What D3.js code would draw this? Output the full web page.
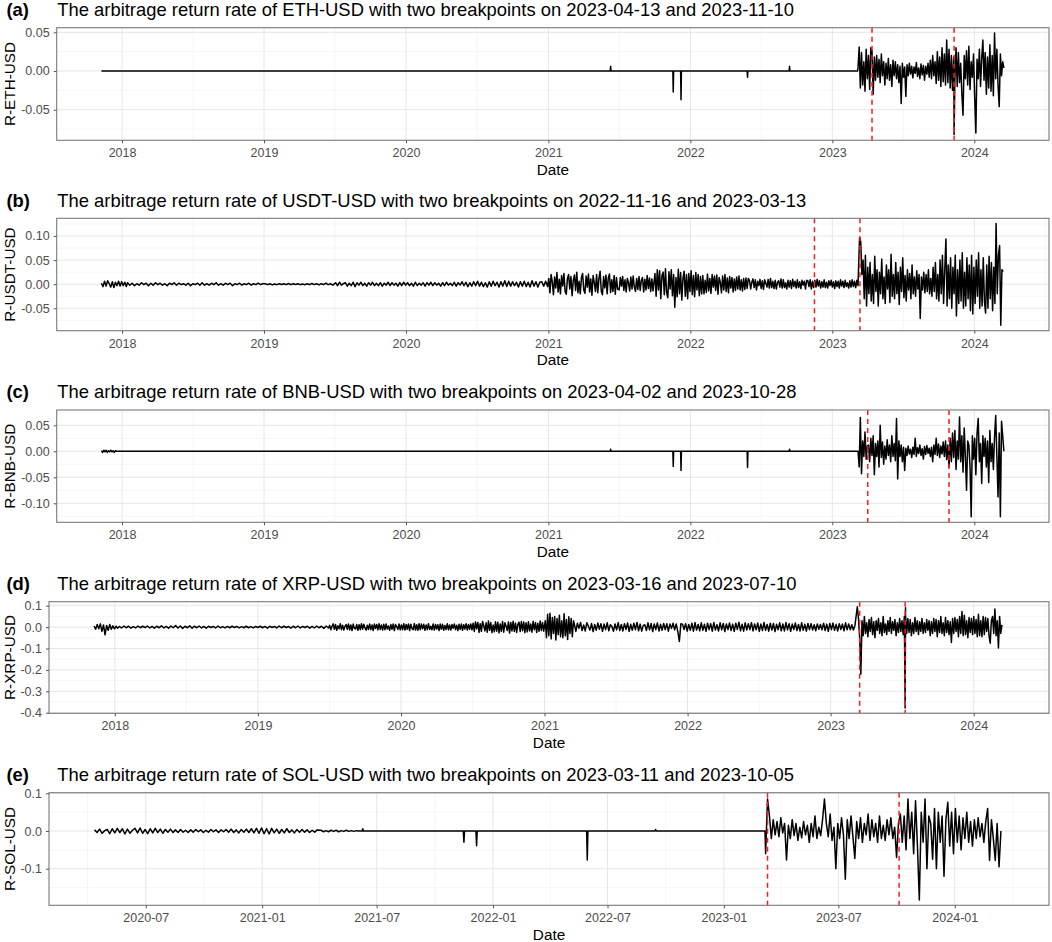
<!DOCTYPE html>
<html><head><meta charset="utf-8">
<script src="https://cdn.jsdelivr.net/npm/d3@7"></script>
<style>body{margin:0;background:#fff}svg text{font-family:"Liberation Sans",Arial,Helvetica,sans-serif}</style>
</head><body><svg id="chart" width="1052" height="942"></svg>
<script>
// ---------------- DATA ----------------
const panelTags = ["(a)","(b)","(c)","(d)","(e)"];
const panelTitles = [
 "The arbitrage return rate of ETH-USD with two breakpoints on 2023-04-13 and 2023-11-10",
 "The arbitrage return rate of USDT-USD with two breakpoints on 2022-11-16 and 2023-03-13",
 "The arbitrage return rate of BNB-USD with two breakpoints on 2023-04-02 and 2023-10-28",
 "The arbitrage return rate of XRP-USD with two breakpoints on 2023-03-16 and 2023-07-10",
 "The arbitrage return rate of SOL-USD with two breakpoints on 2023-03-11 and 2023-10-05"];
const yLabels = ["R-ETH-USD","R-USDT-USD","R-BNB-USD","R-XRP-USD","R-SOL-USD"];
const xLabel = "Date";
const breakpoints = [["2023-04-13","2023-11-10"],["2022-11-16","2023-03-13"],["2023-04-02","2023-10-28"],["2023-03-16","2023-07-10"],["2023-03-11","2023-10-05"]];
const yTickValues = [[-0.05,0,0.05],[-0.05,0,0.05,0.10],[-0.10,-0.05,0,0.05],[-0.4,-0.3,-0.2,-0.1,0,0.1],[-0.1,0,0.1]];
const yTickDecimals = [2,2,2,1,1];
const yearTicks = ["2018-01-01","2019-01-01","2020-01-01","2021-01-01","2022-01-01","2023-01-01","2024-01-01"];
const solTicks = ["2020-07-01","2021-01-01","2021-07-01","2022-01-01","2022-07-01","2023-01-01","2023-07-01","2024-01-01"];

// ETH-USD
const ethPtDates = ["2017-11-09","2021-06-09","2021-06-10","2021-06-11","2021-11-17","2021-11-18","2021-11-19","2021-12-07","2021-12-08","2021-12-09","2022-05-27","2022-05-28","2022-05-29","2022-09-12","2022-09-13","2022-09-14","2023-03-07","2023-11-10"];
const ethPtVals  = [0,0,0.006,0,0,-0.027,0,0,-0.037,0,0,-0.008,0,0,0.006,0,0,-0.082];
const ethSegStarts = ["2023-03-08"];
const ethSegSteps = [3];
const ethSegVals = [[0.004,0.031,-0.022,0.024,-0.018,0.012,-0.026,0.028,-0.01,0.02,-0.024,0.03,
 0.026,-0.03,0.018,-0.012,0.02,-0.008,0.015,-0.015,0.022,-0.006,0.012,-0.018,0.01,-0.01,0.016,-0.012,0.008,-0.02,0.014,
 -0.006,0.012,-0.01,0.008,-0.015,0.006,-0.042,0.01,-0.008,0.005,-0.033,
 0.008,-0.006,0.01,-0.004,0.006,-0.009,0.005,-0.003,0.011,-0.007,0.004,-0.01,0.009,-0.005,0.007,-0.012,0.006,-0.004,0.01,
 -0.008,0.014,-0.01,0.02,-0.006,0.012,-0.016,0.025,-0.012,0.018,-0.02,0.03,-0.014,0.022,-0.018,0.04,-0.015,0.028,-0.022,0.02,
 -0.025,0.018,-0.012,0.03,-0.02,0.024,-0.015,0.01,-0.03,-0.057,0.02,-0.01,0.026,-0.018,0.032,-0.024,0.012,-0.008,0.022,-0.035,-0.08,0.015,-0.01,0.028,-0.02,0.016,0.04,-0.012,0.024,-0.03,0.018,-0.022,0.034,-0.026,0.02,-0.032,0.049,-0.01,0.028,-0.018,-0.046,0.022,-0.006,0.012,0.004]];

// USDT-USD
const usdtPtDates = [];
const usdtPtVals = [];
const usdtSegStarts = ["2017-11-09","2018-01-15","2019-01-04","2019-07-04","2021-01-02","2021-07-02","2021-10-02","2022-02-02","2022-06-02","2023-03-12"];
const usdtSegSteps = [4,6,6,5,3,3,3,3,3,3];
const usdtSegVals = [
 [.002,-.005,.006,-.004,.007,.001,-.006,.005,-.007,.004,-.003,.006,-.004,.005,-.003,.004,-.005],
 [.003,-.002,.002,-.003,.001,-.002,.003,-.001,.002,-.003,.002,-.002,.003,-.001,.002,-.002,.001,-.003,.002,-.001,.003,-.002,.002,-.001,.001,-.002,.002,-.003,.001,-.001,.002,-.002,.003,-.002,.001,-.002,.002,-.001,.003,-.002,.001,-.002,.002,-.001,.002,-.003,.001,-.001,.002,-.002,.001,-.001,.002,-.002,.001,-.001,.002,-.001,.001],
 [.001,-.001,.001,-.0015,.0005,-.001,.001,-.0005,.001,-.001,.0015,-.001,.001,-.0005,.001,-.001,.0005,-.001,.001,-.001,.0015,-.001,.001,-.0015,.001,-.001,.002,-.001,.001,-.002],
 [.003,-.003,.004,-.002,.001,.003,-.004,.002,-.003,.004,-.005,.003,-.002,.004,-.003,.002,-.004,.003,-.002,.004,-.003,.002,-.003,.003,-.004,.002,-.002,.004,-.003,.003,-.002,.002,-.004,.003,-.003,.004,-.002,.003,-.003,.002,-.004,.004,-.003,.002,-.002,.003,-.004,.003,-.002,.004,-.003,.003,-.002,.002,-.004,.003,-.003,.004,-.002,.002,-.003,.004,-.004,.003,-.002,.005,-.003,.004,-.005,.003,-.004,.005,-.003,.006,-.004,.004,-.005,.003,-.006,.005,-.004,.006,-.003,.004,-.006,.005,-.004,.007,-.005,.006,-.004,.005,-.003,.004,-.006,.005,-.004,.006,-.005,.004,-.006,.007,-.004,.005,-.006,.004,.005,-.004,.006,-.005],
 [.012,-.018,.02,.005,-.022,.015,-.008,.024,-.016,.01,-.02,.018,-.004,.022,-.015,-.021,.012,.02,-.01,.016,
  -.024,.008,.019,-.013,.025,-.018,.006,-.02,.014,.022,-.012,-.019,.017,-.006,.021,-.016,.011,-.023,.018,.004,
  -.015,.02,-.018,.012,.027,-.014,-.022,.016,-.008,.019,-.02,.013,.021,-.017,.009,-.015,.018,-.021,.014,-.01],
 [-.012,.014,-.004,.016,-.013,.009,-.016,.012,.003,-.014,.015,-.01,.017,-.006,-.015,.012,-.011,.016,-.013,.008,
  .014,-.016,.01,-.012,.018,-.009,.013,-.015,.011,-.014],
 [.022,-.025,.03,-.012,.028,-.03,.018,.025,-.022,.032,-.018,-.028,.026,-.01,.03,-.024,.02,-.048,.014,-.026,
  .031,-.02,.024,-.033,.012,.027,-.025,.02,-.03,.022,-.015,.028,-.022,.018,-.026,.024,-.012,.02,-.024,.016,-.02],
 [.018,-.02,.008,-.017,.021,-.014,.012,-.019,.02,-.006,.017,-.013,.019,-.021,.014,.004,-.018,.017,-.012,.02,
  -.015,.013,-.018,.016,-.008,.014,-.016,.011,-.013,.015,-.01,.017,-.012,.009,-.014,.012,-.011,.013,-.009,.012],
 [.008,-.01,.004,.011,-.007,.009,-.012,.006,-.003,.01,-.009,.007,-.011,.009,.002,-.006,.01,-.008,.012,-.007,
  .006,-.009,.008,-.01,.004,.007,-.006,.011,-.008,.009,-.007,.003,-.01,.008,-.006,.007,-.009,.01,-.005,.006,
  -.008,.009,-.007,.005,-.009,.008,-.002,.006,-.01,.008,.007,-.005,.009,-.01,.006,-.007,.008,-.006,.01,-.004,
  .007,-.008,.005,-.006,.009,-.007,.004,-.008,.007,-.003,.008,-.006,.005,-.009,.007,-.005,.006,-.008,.009,-.004,
  .006,-.007,.008,-.005,.003,-.008,.007,-.006,.009,-.005,.006,-.007,.008,-.003],
 [0.097,0.088,0.02,0.05,-0.03,0.06,-0.045,0.035,-0.02,0.045,
  -0.035,0.02,-0.04,0.058,-0.015,0.03,-0.045,0.025,-0.02,0.052,-0.03,0.015,-0.04,0.04,-0.01,0.03,-0.038,0.062,-0.025,0.02,
  -0.03,0.045,-0.02,0.025,-0.042,0.035,-0.015,0.055,-0.028,0.018,-0.035,0.03,-0.012,0.022,-0.03,0.04,-0.02,0.015,-0.025,0.028,
  -0.01,0.02,-0.071,0.015,-0.012,0.025,-0.018,0.02,-0.015,0.03,-0.02,0.012,-0.025,0.035,-0.015,0.045,-0.03,0.02,-0.035,0.05,
  -0.02,0.06,-0.04,0.03,0.094,-0.045,0.04,-0.03,0.055,-0.05,0.035,-0.02,0.06,-0.066,0.03,-0.04,0.05,-0.035,0.065,-0.05,
  0.025,-0.045,0.055,-0.03,0.04,-0.055,0.06,-0.062,0.035,-0.04,0.05,-0.025,0.065,-0.05,0.03,-0.045,0.055,-0.035,-0.06,0.04,
  -0.05,0.058,-0.03,0.045,-0.055,0.035,-0.04,0.126,-0.02,0.06,0.08,-0.085,0.03,0.026]];

// BNB-USD
const bnbPtDates = ["2017-12-20","2021-06-09","2021-06-10","2021-06-11","2021-11-17","2021-11-18","2021-11-19","2021-12-07","2021-12-08","2021-12-09","2022-05-27","2022-05-28","2022-05-29","2022-09-12","2022-09-13","2022-09-14","2023-03-07"];
const bnbPtVals = [0,0,0.004,0,0,-0.029,0,0,-0.037,0,0,-0.031,0,0,0.004,0,0];
const bnbSegStarts = ["2017-11-09","2023-03-08"];
const bnbSegSteps = [3,3];
const bnbSegVals = [
 [.001,-.002,.002,-.001,.002,-.002,.001,-.001,.002,-.001,.001,-.002,.001,0],
 [0.0,-0.03,0.065,-0.043,0.02,-0.01,0.037,-0.015,0.01,
  0.012,-0.02,0.025,-0.008,0.03,-0.045,0.015,-0.01,0.02,-0.03,0.05,-0.012,0.018,-0.025,0.01,-0.015,0.022,-0.008,0.012,-0.02,0.03,-0.01,0.015,-0.018,0.063,-0.053,0.02,-0.01,0.012,-0.02,0.008,-0.037,
  0.006,-0.008,0.01,-0.005,0.004,-0.012,0.008,-0.006,0.025,-0.01,0.007,-0.004,0.012,-0.008,0.005,-0.015,0.009,-0.006,0.011,-0.004,0.006,-0.01,0.008,-0.02,0.012,-0.006,0.025,-0.008,0.014,-0.012,0.01,-0.005,0.018,-0.01,0.02,-0.016,0.012,
  -0.03,0.025,-0.02,0.035,-0.012,0.04,-0.035,0.02,-0.015,0.066,-0.02,0.03,-0.04,0.045,-0.01,-0.075,0.02,0.012,-0.03,-0.126,0.03,-0.015,0.025,-0.045,0.035,0.063,-0.02,0.015,-0.062,0.03,-0.01,0.025,-0.03,0.02,-0.06,0.04,-0.02,0.015,-0.035,0.028,0.069,-0.01,-0.088,0.035,-0.126,0.058,0.03,0.0]];

// XRP-USD
const xrpPtDates = ["2023-07-10","2023-07-11"];
const xrpPtVals = [-0.378,0.09];
const xrpSegStarts = ["2017-11-09","2018-01-12","2019-07-03","2020-07-03","2021-01-03","2021-03-18","2023-03-10"];
const xrpSegSteps = [4,6,3,3,3,4,3];
const xrpSegVals = [
 [.005,-.01,.012,-.008,.015,-.02,.01,-.036,.008,-.015,.012,-.01,.006,-.008,.004,-.005],
 [.003,-.004,.005,-.003,.004,-.005,.002,-.004,.005,-.003,.004,-.002,.005,-.004,.003,-.005,.004,-.003,.006,-.004,.003,-.005,.005,-.003,.007,-.004,.005,-.006,.004,-.003,.006,-.005,.004,-.003,.005,-.004,.003,-.005,.004,-.002,.003,-.004,.005,-.003,.002,-.004,.003,-.003,.004,-.002,.003,-.004,.002,-.003,.004,-.003,.002,-.004,.003,-.002,.004,-.003,.003,-.005,.004,-.002,.003,-.004,.005,-.003,.004,-.002,.003,-.005,.004,-.003,.005,-.004,.003,-.002,.004,-.005,.003,-.004,.005,-.003,.004,-.006,.005,-.004],
 [.008,-.012,.004,.015,-.01,.012,-.015,.006,-.008,.016,-.012,.009,-.014,.003,.012,-.01,.015,-.013,.01,-.016,
  .014,-.005,-.009,.012,-.015,.011,-.012,.016,-.01,.013,-.004,-.014,.009,-.011,.015,-.012,.01,-.016,.014,-.007,
  .012,-.013,.016,-.011,.01,-.014,.013,-.012,.015,-.009,.005,-.015,.012,-.01,.014,-.016,.012,.002,-.011,.015,
  -.013,.01,-.012,.016,-.014,.012,-.01,.015,-.016,.013,-.006,-.012,.017,-.014,.011,-.015,.016,-.012,.014,-.008,
  .013,-.015,.01,-.012,.016,-.011,.004,-.013,.015,-.014,.012,-.009,.011,-.016,.014,-.01,.013,-.015,.008,-.011,
  .016,-.013,.01,-.014,.012,-.006,.015,-.012,.009,-.016,.013,-.011,.014,-.015,.011,-.009,.016,-.014,.012,-.01,
  .015,-.013],
 [.018,-.02,.024,-.008,.022,-.025,.016,-.02,.026,.006,-.018,.02,-.024,.028,-.015,.021,-.026,.01,-.022,.025,
  -.019,.023,-.027,.015,-.02,.026,-.024,.02,.004,-.016,.024,-.028,.022,-.018,.027,-.02,.019,-.025,.012,.023,
  -.021,.026,-.017,.024,-.026,.02,-.022,.025,-.018,.015,-.024,.027,-.012,.021,-.025,.018,-.02,.028,-.016,.022,-.019],
 [.03,-.05,.06,-.04,.065,-.055,.045,-.03,.05,-.06,.04,-.035,.055,-.045,.03,-.05,.062,-.04,.035,-.058,.048,-.03,.04,-.045,.03],
 [.015,-.02,.018,-.006,.022,-.016,.01,-.018,.02,.004,-.014,.017,-.021,.012,-.015,.019,-.01,.016,-.02,.014,
  -.012,.02,-.017,.011,.003,-.019,.015,-.013,.021,-.016,.012,-.018,.016,-.011,.019,-.02,.013,-.015,.018,-.012,
  .022,-.017,.014,-.019,.008,.011,-.016,.02,-.013,.017,-.021,.015,-.012,.019,-.018,.013,-.015,.017,-.012,.016,
  -.019,.014,-.006,.018,-.013,.015,-.02,-.067,.016,.014,-.011,.016,-.019,.012,-.015,.018,-.019,.021,-.014,.012,
  -.017,.02,-.015,.013,-.02,.018,-.012,.016,-.019,.022,-.014,.011,-.018,.02,-.013,.017,-.021,.015,-.012,.019,
  -.016,.014,-.02,.018,-.011,.023,-.017,.013,-.019,.02,-.014,.016,-.012,.021,-.018,.015,-.013,.019,-.02,.014,
  -.016,.022,-.015,.012,-.019,.018,-.014,.017,-.021,.013,-.012,.02,-.017,.015,-.018,.021,-.013,.016,-.02,.014,
  -.011,.019,-.016,.012,-.018,.02,-.015,.013,-.019,.017,-.012,.016,-.014,.011,-.017,.015,-.01,.012,-.013,.018,
  -.016,.014,-.02,.017,-.012,.019,-.015,.013,-.018,.016,-.011,.014,-.017,.02,-.013,.015,-.012,.011,-.014,.008],
 [0.095,0.04,-0.05,-0.22,0.03,-0.04,0.05,-0.03,0.02,-0.045,0.035,-0.02,0.045,-0.035,0.025,-0.05,0.03,-0.015,0.04,-0.03,
  0.02,-0.04,0.05,-0.025,0.015,-0.035,0.03,-0.02,0.045,-0.03,0.025,-0.015,0.035,-0.04,0.02,-0.025,0.04,-0.02,0.03,-0.035,
  0.05,0.06,-0.03,0.04,-0.025,0.035,-0.04,0.02,-0.03,0.045,-0.02,0.03,-0.035,0.025,-0.02,0.04,-0.03,0.02,-0.025,0.035,
  -0.015,0.03,-0.04,0.025,-0.03,0.04,-0.02,0.035,-0.045,0.03,-0.025,0.05,-0.03,0.02,-0.04,0.045,-0.025,0.03,-0.035,0.025,
  -0.072,0.04,-0.03,0.045,-0.02,0.035,-0.045,0.05,-0.03,0.073,-0.04,0.055,-0.035,0.03,-0.05,0.045,-0.025,0.04,-0.035,0.05,
  -0.03,0.035,-0.045,0.06,-0.04,0.03,-0.045,0.05,-0.035,0.045,-0.02,0.04,-0.04,-0.075,0.03,0.05,-0.03,0.085,-0.04,0.03,-0.098,0.05,-0.03,0.01]];

// SOL-USD
const solPtDates = ["2021-06-08","2021-06-09","2021-06-10","2021-11-15","2021-11-16","2021-11-17","2021-12-05","2021-12-06","2021-12-07","2022-05-29","2022-05-30","2022-05-31","2022-09-14","2022-09-15","2022-09-16","2023-03-07"];
const solPtVals = [0,0.006,0,0,-0.03,0,0,-0.039,0,0,-0.077,0,0,0.004,0,0];
const solSegStarts = ["2020-04-11","2021-04-04","2023-03-08"];
const solSegSteps = [4,4,3];
const solSegVals = [
 [.003,-.004,.005,-.006,.001,.004,-.007,.006,-.005,.007,-.004,.006,-.008,.005,-.006,.002,.007,-.005,.008,-.006,
  .004,-.007,.006,-.005,.007,-.004,.005,-.006,.004,-.003,.005,-.004,.003,-.004,.004,-.003,.002,-.004,.003,-.003,
  .004,-.002,.003,-.004,.002,-.003,.004,-.002,.003,-.004,.003,-.002,.004,-.003,.005,-.004,.003,-.005,.004,-.003,
  .005,-.004,.006,-.005,.007,-.006,.008,-.007,.006,-.008,.007,-.005,.005,-.006,.004,-.005,.006,-.004,.003,-.005,
  .004,-.003,.004,-.003,.003,-.004,.002,-.003,.003],
 [.002,-.002,.001,-.002,.002,-.001,.002,-.002,.001,-.001,.002,-.001,.001,-.001,.001,0],
 [-0.06,0.085,0.04,-0.02,0.03,-0.01,0.025,-0.015,0.035,-0.005,
  0.02,-0.077,0.015,-0.02,0.03,-0.012,0.02,-0.025,0.01,-0.018,
  0.025,-0.01,0.015,-0.03,0.02,-0.015,0.04,-0.02,0.01,-0.012,
  0.03,0.085,0.02,-0.015,0.045,-0.025,0.01,-0.1,0.02,-0.02,
  0.035,-0.01,-0.128,0.03,-0.02,0.04,-0.015,-0.073,0.025,-0.02,
  0.035,-0.03,0.02,-0.01,0.045,-0.025,0.03,-0.015,0.02,-0.03,
  0.04,-0.02,0.015,-0.025,0.03,-0.01,0.035,-0.02,0.01,-0.07,
  0.02,0.045,-0.03,0.04,-0.05,0.085,-0.02,0.05,-0.06,0.08,
  -0.04,-0.183,0.05,-0.03,0.085,-0.1,0.04,0.02,-0.075,0.06,
  -0.1,0.05,-0.03,0.04,-0.12,0.03,0.076,-0.04,0.05,-0.06,
  0.06,-0.03,0.04,-0.05,0.035,-0.02,0.05,-0.03,0.025,-0.04,
  0.03,-0.02,0.035,-0.015,0.02,-0.03,0.025,0.06,-0.078,0.03,-0.02,-0.078,0.02,-0.095,0.0]];

// ---------------- LAYOUT ----------------
const boxes = [
 {l:56.7,r:1049,t:27.7,b:140.3,yd:[-0.0895,0.0559]},
 {l:56.7,r:1049,t:218.3,b:330.7,yd:[-0.0965,0.1367]},
 {l:56.7,r:1049,t:410,b:522.3,yd:[-0.1365,0.0794]},
 {l:49,r:1049,t:601.7,b:713.3,yd:[-0.4028,0.1187]},
 {l:49,r:1049,t:792.7,b:905.3,yd:[-0.197,0.1016]}];
const xDomainMain = ["2017-07-17","2024-07-11"];
const xDomainSol = ["2020-01-30","2024-05-29"];

const parse = d3.utcParse("%Y-%m-%d");
function build(pd,pv,ss,st,sv){
  const pts = pd.map((d,i)=>({t:parse(d),v:pv[i]}));
  ss.forEach((s,k)=>{const t0=parse(s); sv[k].forEach((v,i)=>pts.push({t:d3.utcDay.offset(t0,st[k]*i),v:v}));});
  pts.sort((a,b)=>a.t-b.t);
  return pts;
}
const series = [
 build(ethPtDates,ethPtVals,ethSegStarts,ethSegSteps,ethSegVals),
 build(usdtPtDates,usdtPtVals,usdtSegStarts,usdtSegSteps,usdtSegVals),
 build(bnbPtDates,bnbPtVals,bnbSegStarts,bnbSegSteps,bnbSegVals),
 build(xrpPtDates,xrpPtVals,xrpSegStarts,xrpSegSteps,xrpSegVals),
 build(solPtDates,solPtVals,solSegStarts,solSegSteps,solSegVals)];

const svg = d3.select("#chart");
const FONT = '"Liberation Sans",Arial,Helvetica,sans-serif';

function minorsOf(arr, lo, hi){
  const out=[]; const step=arr[1]-arr[0];
  out.push(arr[0]-step/2);
  for(let i=0;i<arr.length-1;i++) out.push((arr[i]+arr[i+1])/2);
  out.push(arr[arr.length-1]+step/2);
  return out.filter(v=>v>=lo&&v<=hi);
}

boxes.forEach((bx,p)=>{
  const g = svg.append("g");
  const isSol = p===4;
  const xd = (isSol?xDomainSol:xDomainMain).map(parse);
  const x = d3.scaleUtc().domain(xd).range([bx.l,bx.r]);
  const y = d3.scaleLinear().domain(bx.yd).range([bx.b,bx.t]);
  const xt = (isSol?solTicks:yearTicks).map(parse);
  const xtNum = xt.map(d=>+d);
  const xMinor = minorsOf(xtNum, +xd[0], +xd[1]).map(v=>new Date(v));
  const yt = yTickValues[p];
  const yMinor = minorsOf(yt, bx.yd[0], bx.yd[1]);

  g.append("rect").attr("x",bx.l).attr("y",bx.t).attr("width",bx.r-bx.l).attr("height",bx.b-bx.t).attr("fill","#fff");
  g.selectAll(".mgx").data(xMinor).join("line").attr("class","mgx").attr("x1",d=>x(d)).attr("x2",d=>x(d)).attr("y1",bx.t).attr("y2",bx.b).attr("stroke","#f2f2f2").attr("stroke-width",0.7);
  g.selectAll(".mgy").data(yMinor).join("line").attr("class","mgy").attr("y1",d=>y(d)).attr("y2",d=>y(d)).attr("x1",bx.l).attr("x2",bx.r).attr("stroke","#f2f2f2").attr("stroke-width",0.7);
  g.selectAll(".gx").data(xt).join("line").attr("class","gx").attr("x1",d=>x(d)).attr("x2",d=>x(d)).attr("y1",bx.t).attr("y2",bx.b).attr("stroke","#e6e6e6").attr("stroke-width",1);
  g.selectAll(".gy").data(yt).join("line").attr("class","gy").attr("y1",d=>y(d)).attr("y2",d=>y(d)).attr("x1",bx.l).attr("x2",bx.r).attr("stroke","#e6e6e6").attr("stroke-width",1);

  const cid = "clip"+p;
  svg.append("clipPath").attr("id",cid).append("rect").attr("x",bx.l).attr("y",bx.t).attr("width",bx.r-bx.l).attr("height",bx.b-bx.t);

  const line = d3.line().x(d=>x(d.t)).y(d=>y(d.v));
  g.append("path").datum(series[p]).attr("clip-path",`url(#${cid})`).attr("fill","none").attr("stroke","#000").attr("stroke-width",1.5).attr("stroke-linejoin","round").attr("d",line);

  g.selectAll(".bp").data(breakpoints[p].map(parse)).join("line").attr("class","bp")
    .attr("x1",d=>x(d)).attr("x2",d=>x(d)).attr("y1",bx.t).attr("y2",bx.b)
    .attr("stroke","#ff1a1a").attr("stroke-width",1.5).attr("stroke-dasharray","5,4");

  g.append("rect").attr("x",bx.l).attr("y",bx.t).attr("width",bx.r-bx.l).attr("height",bx.b-bx.t).attr("fill","none").attr("stroke","#7a7a7a").attr("stroke-width",1.1);

  const fmtX = d3.utcFormat(isSol?"%Y-%m":"%Y");
  const ax = g.append("g").attr("transform",`translate(0,${bx.b})`).call(d3.axisBottom(x).tickValues(xt).tickFormat(fmtX).tickSize(3).tickPadding(5));
  const dec = yTickDecimals[p];
  const ay = g.append("g").attr("transform",`translate(${bx.l},0)`).call(d3.axisLeft(y).tickValues(yt).tickFormat(v=>(Math.abs(v)<1e-12?0:v).toFixed(dec)).tickSize(3).tickPadding(4));
  [ax,ay].forEach(a=>{
    a.select(".domain").remove();
    a.selectAll(".tick line").attr("stroke","#555").attr("stroke-width",1);
    a.selectAll(".tick text").attr("fill","#4d4d4d").style("font-family",FONT).style("font-size","12.5px");
  });

  const tb = bx.t - 11.7;
  g.append("text").attr("x",6.5).attr("y",tb).text(panelTags[p]).style("font-family",FONT).style("font-size","18.4px").style("font-weight","bold").attr("fill","#000");
  g.append("text").attr("x",57.3).attr("y",tb).text(panelTitles[p]).style("font-family",FONT).style("font-size","18.4px").attr("fill","#000");
  g.append("text").attr("transform",`translate(15,${(bx.t+bx.b)/2}) rotate(-90)`).attr("text-anchor","middle").text(yLabels[p]).style("font-family",FONT).style("font-size","15.3px").attr("fill","#000");
  g.append("text").attr("x",(bx.l+bx.r)/2).attr("y",bx.b+34.5).attr("text-anchor","middle").text(xLabel).style("font-family",FONT).style("font-size","15.3px").attr("fill","#000");
});
</script></body></html>
